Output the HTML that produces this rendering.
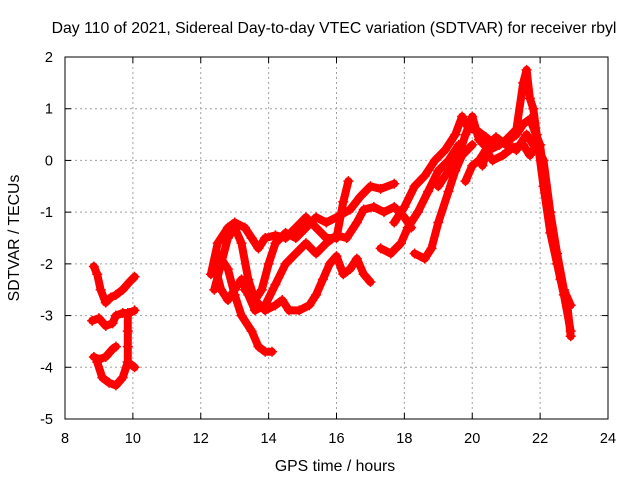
<!DOCTYPE html>
<html><head><meta charset="utf-8"><style>
body{margin:0;background:#fff;}
svg text{font-family:"Liberation Sans",sans-serif;font-size:14.5px;fill:#000;}
svg text.big{font-size:15.8px;}
</style></head><body>
<svg id="chart" width="640" height="480" xmlns="http://www.w3.org/2000/svg">
<text class="big" x="334" y="33" text-anchor="middle">Day 110 of 2021, Sidereal Day-to-day VTEC variation (SDTVAR) for receiver rbyl</text>
<text class="big" x="335" y="471" text-anchor="middle">GPS time / hours</text>
<text class="big" transform="translate(19,238) rotate(-90)" text-anchor="middle">SDTVAR / TECUs</text>
<g id="grid"></g><g id="axes"></g><g id="series"></g>
<rect x="65" y="57" width="543" height="362" fill="none" stroke="#000" stroke-width="1"/>
</svg>
<script>
const xTicks=[8,10,12,14,16,18,20,22,24];
const yTicks=[2,1,0,-1,-2,-3,-4,-5];
const s1=[[8.85,-2.05],[8.95,-2.2],[9.05,-2.5],[9.2,-2.75],[9.35,-2.65],[9.5,-2.6],[9.7,-2.5],[9.9,-2.35],[10.05,-2.25]];
const s2=[[8.8,-3.1],[9.0,-3.05],[9.2,-3.2],[9.4,-3.15],[9.5,-3.0],[9.7,-2.95],[9.9,-2.95],[10.05,-2.9]];
const s3=[[8.85,-3.8],[9.0,-3.85],[9.2,-3.8],[9.4,-3.65],[9.5,-3.6]];
const s4=[[8.95,-3.9],[9.1,-4.2],[9.3,-4.3],[9.5,-4.35],[9.7,-4.2],[9.85,-3.9],[10.05,-4.0]];
const s5=[[9.85,-2.95],[9.85,-3.3],[9.85,-3.6],[9.85,-3.9]];
const s6=[[12.3,-2.2],[12.5,-1.6],[12.8,-1.3],[13.0,-1.2],[13.3,-1.3],[13.5,-1.5],[13.7,-1.7],[13.9,-1.5],[14.2,-1.45],[14.5,-1.5],[14.8,-1.3],[15.1,-1.1],[15.4,-1.3],[15.7,-1.5],[16.0,-1.5],[16.2,-0.8],[16.35,-0.4]];
const s7=[[12.4,-2.5],[12.6,-2.0],[12.8,-1.5],[13.0,-1.3],[13.2,-1.6],[13.4,-2.3],[13.6,-2.7],[13.8,-2.5],[14.0,-2.0],[14.2,-1.6],[14.5,-1.4],[14.8,-1.5],[15.1,-1.3],[15.4,-1.1],[15.7,-1.2],[16.0,-1.1],[16.4,-0.95],[16.7,-0.7],[17.0,-0.5],[17.3,-0.55],[17.7,-0.45]];
const s8=[[12.4,-2.0],[12.6,-2.5],[12.8,-2.7],[13.0,-2.5],[13.2,-2.3],[13.4,-2.6],[13.6,-2.9],[13.9,-2.8],[14.2,-2.4],[14.5,-2.0],[14.8,-1.8],[15.1,-1.6],[15.4,-1.8],[15.7,-1.6],[16.0,-1.45],[16.3,-1.5],[16.6,-1.2],[16.8,-0.95],[17.1,-0.9],[17.4,-1.0],[17.7,-0.9],[18.0,-1.1],[18.2,-1.3]];
const s9=[[12.5,-1.8],[12.8,-2.1],[13.0,-2.6],[13.2,-3.0],[13.5,-3.3],[13.7,-3.6],[13.9,-3.7],[14.1,-3.7]];
const s10=[[13.3,-2.5],[13.6,-2.7],[13.9,-2.9],[14.2,-2.8],[14.4,-2.7],[14.6,-2.9],[14.9,-2.9],[15.2,-2.8],[15.4,-2.6],[15.6,-2.3],[15.8,-2.0],[16.0,-1.85],[16.2,-2.2],[16.4,-2.1],[16.6,-1.9],[16.8,-2.2],[17.0,-2.35]];
const s11=[[17.3,-1.7],[17.6,-1.8],[17.9,-1.6],[18.1,-1.3],[18.4,-1.0],[18.7,-0.6],[19.0,-0.2],[19.3,0.0],[19.6,0.3]];
const s12=[[18.3,-1.8],[18.6,-1.9],[18.8,-1.7],[19.0,-1.2],[19.3,-0.6],[19.5,-0.2],[19.7,0.1],[20.0,0.3]];
const s13=[[17.7,-1.2],[18.0,-0.9],[18.3,-0.5],[18.6,-0.3],[18.9,0.0],[19.2,0.2],[19.5,0.5],[19.7,0.85],[19.9,0.6],[20.1,0.6],[20.4,0.45],[20.7,0.3],[21.0,0.35],[21.3,0.5],[21.5,0.7],[21.7,0.8],[22.0,0.3],[22.2,-0.8],[22.4,-1.6],[22.6,-2.3],[22.8,-2.8],[22.9,-3.4]];
const s14=[[19.0,-0.5],[19.3,-0.2],[19.6,0.1],[19.8,0.5],[20.0,0.85],[20.2,0.4],[20.5,0.2],[20.8,0.3],[21.0,0.4],[21.3,0.6],[21.5,1.5],[21.6,1.75],[21.7,1.2],[21.8,1.0],[21.9,0.5],[22.1,-0.5],[22.3,-1.4],[22.5,-2.0],[22.7,-2.6],[22.9,-3.3]];
const s15=[[19.8,-0.4],[20.0,-0.1],[20.2,0.0],[20.4,0.2],[20.6,0.0],[20.9,0.1],[21.2,0.25],[21.5,0.3],[21.7,0.1],[21.9,0.3],[22.1,0.0],[22.3,-1.0],[22.5,-1.8],[22.7,-2.5],[22.9,-2.8]];
const s16=[[20.3,-0.1],[20.5,0.3],[20.7,0.45],[21.0,0.3],[21.3,0.2],[21.6,0.5],[21.9,0.2]];
const allSeries=[s1,s2,s3,s4,s5,s6,s7,s8,s9,s10,s11,s12,s13,s14,s15,s16];
const NS="http://www.w3.org/2000/svg";
const X=h=>65+(h-8)*543/16, Y=v=>57+(2-v)*362/7;
const grid=document.getElementById('grid'),axes=document.getElementById('axes'),ser=document.getElementById('series');
function mk(tag,at,parent){const e=document.createElementNS(NS,tag);for(const k in at)e.setAttribute(k,at[k]);parent.appendChild(e);return e;}
xTicks.forEach(t=>{const x=X(t);
 if(t>8&&t<24){const g=mk('line',{x1:x,x2:x,y1:57,y2:419,stroke:'#a0a0a0','stroke-dasharray':'2,3'},grid);
 
 }
 mk('line',{x1:x,x2:x,y1:419,y2:413,stroke:'#000'},axes);mk('line',{x1:x,x2:x,y1:57,y2:63,stroke:'#000'},axes);
 const tx=mk('text',{x:x,y:443,'text-anchor':'middle'},axes);tx.textContent=t;
 
 });
yTicks.forEach(t=>{const y=Y(t);
 if(t<2&&t>-5){const g=mk('line',{x1:65,x2:608,y1:y,y2:y,stroke:'#a0a0a0','stroke-dasharray':'2,3'},grid);
 
 }
 mk('line',{x1:65,x2:71,y1:y,y2:y,stroke:'#000'},axes);mk('line',{x1:602,x2:608,y1:y,y2:y,stroke:'#000'},axes);
 const tx=mk('text',{x:53,y:y+5,'text-anchor':'end'},axes);tx.textContent=t;
 
 });
allSeries.forEach((s,i)=>{
 const d=s.map((p,j)=>(j?'L':'M')+X(p[0]).toFixed(1)+','+Y(p[1]).toFixed(1)).join('');
 const p=mk('path',{d:d,fill:'none',stroke:'#ff0000','stroke-width':8,'stroke-linejoin':'round','stroke-linecap':'round'},ser);
 
 
 s.forEach(pt=>{const x=X(pt[0]),y=Y(pt[1]);
  const m=mk('path',{d:`M${x-5},${y}H${x+5}M${x},${y-5}V${y+5}`,stroke:'#ff0000','stroke-width':1.5},ser);
  
  });
});
</script>
</body></html>
